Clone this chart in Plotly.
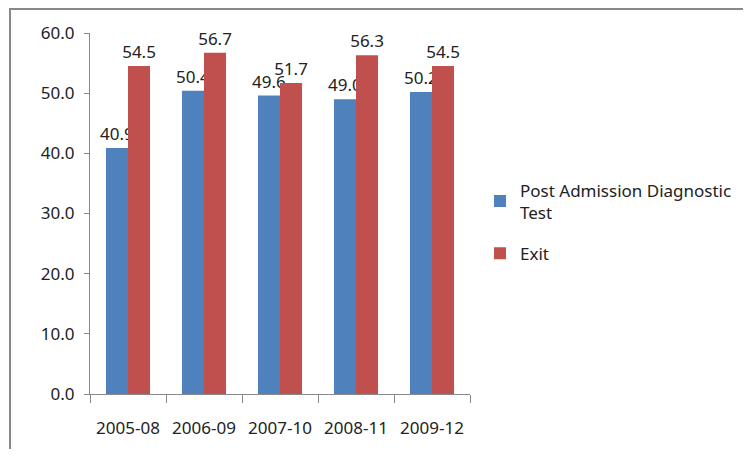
import plotly.graph_objects as go

categories = ["2005-08", "2006-09", "2007-10", "2008-11", "2009-12"]
post_admission = [40.9, 50.4, 49.6, 49.0, 50.2]
exit_scores = [54.5, 56.7, 51.7, 56.3, 54.5]
series_names = ["Post Admission Diagnostic<br>Test", "Exit"]

OFF = 8  # default page body margin
W, H = 735, 441
L, R, T, B = 90 - OFF, 470 - OFF, 33 - OFF, 394 - OFF
pw, ph = R - L, B - T

label_font = dict(size=17, color="#222")

fig = go.Figure()
fig.add_trace(go.Bar(x=categories, y=post_admission, name=series_names[0], legendgroup="a",
                     marker=dict(color="#4F81BD", line=dict(width=0)),
                     text=[f"{v:.1f}" for v in post_admission], textposition="outside",
                     constraintext="none", cliponaxis=False, textfont=label_font))
fig.add_trace(go.Bar(x=categories, y=exit_scores, name=series_names[1], legendgroup="b",
                     marker=dict(color="#C0504D", line=dict(width=0)),
                     text=[f"{v:.1f}" for v in exit_scores], textposition="outside",
                     constraintext="none", cliponaxis=False, textfont=label_font))

fig.update_layout(
    width=W, height=H,
    margin=dict(l=L, r=W - R, t=T, b=H - B, autoexpand=False),
    paper_bgcolor="white", plot_bgcolor="white",
    barmode="group", bargap=0.42, bargroupgap=0,
    font=dict(family="Noto Sans, DejaVu Sans, sans-serif", size=16, color="#222"),
    legend=dict(x=(480 - OFF - L) / pw, y=(B - (222 - OFF)) / ph, xanchor="left",
                yanchor="middle", font=dict(size=17), tracegroupgap=16, itemwidth=30),
    showlegend=True,
    xaxis=dict(type="category", showline=True, linecolor="#888", linewidth=1,
               ticks="outside", tickson="boundaries", ticklen=8, tickcolor="#888",
               showgrid=False, tickfont=dict(size=17), automargin=False,
               ticklabelstandoff=19),
    yaxis=dict(range=[0, 60], dtick=10, tickformat=".1f", showline=True,
               linecolor="#888", linewidth=1, ticks="outside", ticklen=5,
               tickcolor="#888", showgrid=False, zeroline=False,
               tickfont=dict(size=17), automargin=False, ticklabelstandoff=6),
    shapes=[dict(type="rect", xref="paper", yref="paper",
                 x0=(10 - OFF - L) / pw, x1=(780 - OFF - L) / pw,
                 y0=(B - 480) / ph, y1=(B - 1) / ph,
                 line=dict(color="#888", width=2), fillcolor="rgba(0,0,0,0)", layer="below")],
)

fig.write_html("out.html")
